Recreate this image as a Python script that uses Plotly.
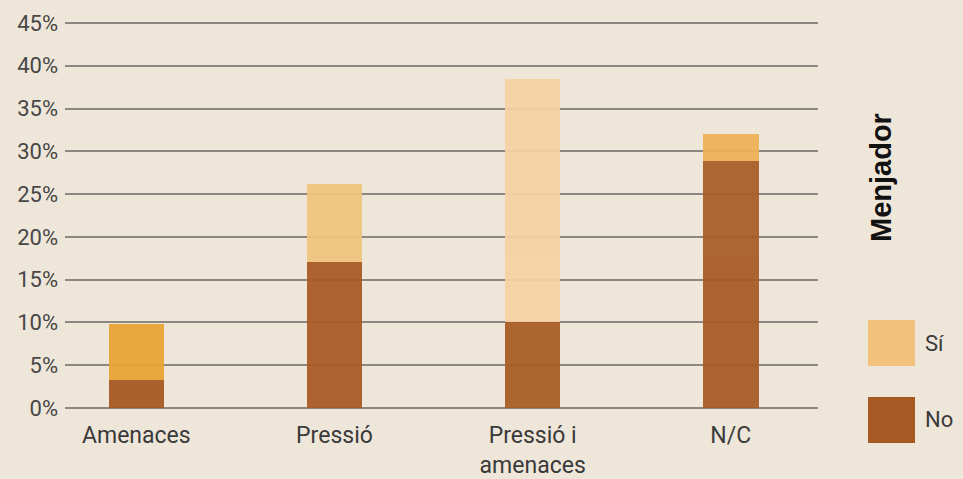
import plotly.graph_objects as go

categories = ["Amenaces", "Pressió", "Pressió i<br>amenaces", "N/C"]
no_values = [3.3, 17.1, 10.1, 28.9]
si_values = [6.5, 9.1, 28.3, 3.1]
tick_vals = [0, 5, 10, 15, 20, 25, 30, 35, 40, 45]
tick_text = [f"{v}%" for v in tick_vals]
legend_labels = ["Sí", "No"]
legend_title = "Menjador"

no_colors = ["#a7561f", "#a95a24", "#a95c24", "#a85a25"]
si_colors = ["#eaa132", "#f0c47c", "#f5d2a4", "#ecb255"]
bg = "#efe6da"

W, H = 963, 479
L, T = 65, 20
PR, PB = 818, 408
R, B = W - PR, H - PB
PW, PH = PR - L, PB - T

fig = go.Figure()
fig.add_trace(go.Bar(x=categories, y=no_values, name="No", marker=dict(color=no_colors, line_width=0),
                     width=0.28, opacity=0.93, showlegend=False))
fig.add_trace(go.Bar(x=categories, y=si_values, name="Sí", marker=dict(color=si_colors, line_width=0),
                     width=0.28, opacity=0.93, showlegend=False))

fig.update_layout(
    barmode="stack",
    width=W, height=H,
    margin=dict(l=L, r=R, t=T, b=B, autoexpand=False),
    paper_bgcolor=bg, plot_bgcolor=bg,
    font=dict(family="Roboto, sans-serif", color="#3a3a3a"),
    xaxis=dict(range=[-0.36, 3.44], showgrid=False, showline=False, zeroline=False, automargin=False,
               tickfont=dict(size=23, color="#3a3a3a"), ticks="", ticklabelstandoff=11),
    yaxis=dict(range=[0, 45.35], tickvals=tick_vals, ticktext=tick_text, automargin=False,
               showgrid=True, gridcolor="#8c8782", gridwidth=2,
               zeroline=True, zerolinecolor="#8c8782", zerolinewidth=2,
               tickfont=dict(size=22, color="#474747"), ticks="", ticklabelstandoff=6),
)

def px_x(xpage):
    return (xpage - L) / PW

def px_y(ypage):
    return (PB - ypage) / PH

fig.add_annotation(text=f"<b>{legend_title}</b>", xref="paper", yref="paper",
                   x=px_x(881), y=px_y(178), textangle=-90,
                   showarrow=False, font=dict(size=29, color="#111", family="Liberation Sans, Arial, sans-serif"),
                   xanchor="center", yanchor="middle")
sw_colors = ["#f2c27d", "#a85a25"]
sw_y = [343, 420]
for lab, col, yc in zip(legend_labels, sw_colors, sw_y):
    fig.add_shape(type="rect", xref="paper", yref="paper",
                  x0=px_x(868), x1=px_x(915), y0=px_y(yc + 23), y1=px_y(yc - 23),
                  fillcolor=col, line_width=0)
    fig.add_annotation(text=lab, xref="paper", yref="paper", x=px_x(923),
                       y=px_y(yc), showarrow=False, xanchor="left", yanchor="middle",
                       font=dict(size=22, color="#3a3a3a"))

fig.write_html("out.html", config={"displayModeBar": False},
               post_script="document.body.style.margin='0';document.body.style.background='%s';document.body.style.overflow='hidden';" % bg)
